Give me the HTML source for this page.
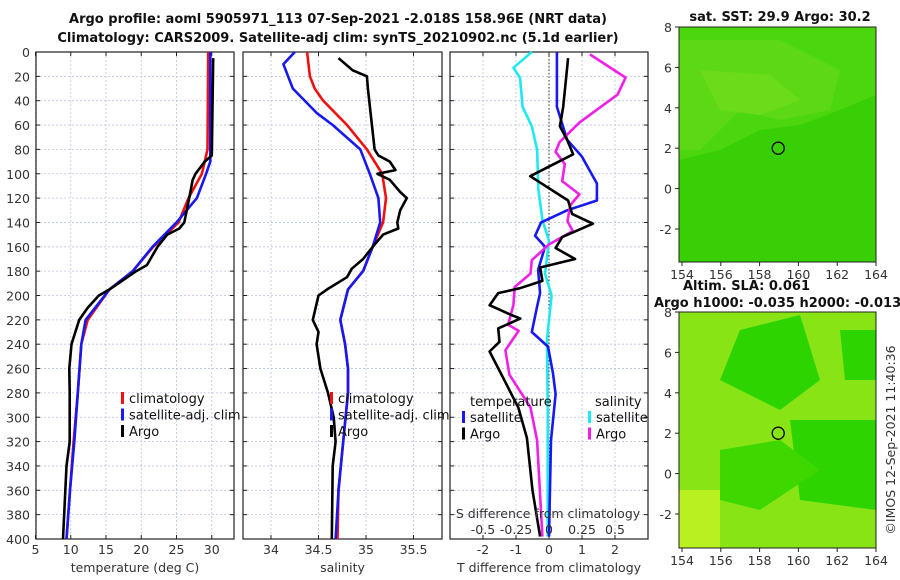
<!DOCTYPE html>
<html><head><meta charset="utf-8"><style>
body{margin:0;background:#fff;}
svg{display:block;font-family:"DejaVu Sans","Liberation Sans",sans-serif;}
.t{font-size:13px;font-weight:bold;fill:#111;}
.tk{font-size:12.5px;fill:#333;}
.lg{font-size:13px;fill:#111;}
</style></head><body>
<svg id="c" width="900" height="580" viewBox="0 0 900 580">
<text class="t" x="338" y="23" text-anchor="middle">Argo profile: aoml 5905971_113 07-Sep-2021 -2.018S 158.96E (NRT data)</text>
<text class="t" x="338" y="42" text-anchor="middle">Climatology: CARS2009. Satellite-adj clim: synTS_20210902.nc (5.1d earlier)</text>
<g id="maps"></g>
<g id="plots"></g>
</svg>
<script>
// depths shared
const depthTicks=[0,20,40,60,80,100,120,140,160,180,200,220,240,260,280,300,320,340,360,380,400];
// temperature panel
const tTicks=[5,10,15,20,25,30];
const tClimD=[0,80,100,120,140,160,180,195,220,240,280,320,360,400];
const tClimV=[29.5,29.4,28.6,26.7,25.3,21.7,18.8,15.5,12.4,11.5,11.0,10.4,9.9,9.4];
const tSatD=[0,90,100,120,140,160,180,195,220,240,280,320,360,400];
const tSatV=[29.8,29.8,29.2,27.9,25.0,21.6,18.8,15.5,12.1,11.5,11.0,10.5,9.9,9.4];
const tArgoD=[5,85,90,100,105,120,140,145,150,160,175,180,195,200,210,220,240,260,280,320,340,400];
const tArgoV=[30.2,30.0,29.0,27.7,27.3,26.8,26.1,25.4,23.7,22.3,20.8,19.3,15.5,14.0,12.4,11.2,10.1,9.8,9.85,9.85,9.4,8.9];
// salinity panel
const sTicks=[34,34.5,35,35.5];
const sClimD=[0,20,30,40,60,80,100,120,140,160,180,195,220,240,260,280,320,360,400];
const sClimV=[34.38,34.41,34.46,34.55,34.80,35.01,35.17,35.21,35.18,35.07,34.97,34.81,34.73,34.78,34.81,34.81,34.76,34.71,34.70];
const sSatD=[0,10,30,50,60,80,100,120,140,160,180,195,220,240,260,280,320,360,400];
const sSatV=[34.25,34.13,34.23,34.48,34.65,34.94,35.04,35.13,35.15,35.07,34.97,34.81,34.73,34.78,34.81,34.81,34.76,34.71,34.68];
const sArgoD=[5,15,20,30,80,85,90,97,100,105,115,120,130,140,145,150,160,170,178,185,195,200,220,230,240,260,280,300,320,340,400];
const sArgoV=[34.71,34.86,35.01,35.02,35.09,35.13,35.25,35.31,35.12,35.25,35.36,35.43,35.36,35.33,35.34,35.18,35.07,34.97,34.85,34.80,34.59,34.50,34.44,34.50,34.48,34.52,34.60,34.66,34.68,34.65,34.64];
// difference panel
const dtTicks=[-2,-1,0,1,2];
const dsTicks=[-0.5,-0.25,0,0.25,0.5];
const dsTickLabels=["-0.5","-0.25","0","0.25","0.5"];
const dtSatD=[0,45,72,86,108,122,130,140,151,160,179,198,209,230,242,264,281,319,398];
const dtSatV=[0.24,0.24,0.55,1.0,1.45,1.45,0.55,-0.24,-0.42,-0.12,-0.33,-0.27,-0.36,-0.52,-0.03,0.12,0.2,0.06,0.0];
const dtArgoD=[5,45,61,72,84,102,122,133,141,152,161,170,177,188,194,198,208,216,219,227,238,246,265,292,317,360,398];
const dtArgoV=[0.58,0.43,0.33,0.55,0.73,-0.57,0.58,0.7,1.33,0.4,0.2,0.79,-0.27,-0.2,-0.88,-1.54,-1.8,-1.14,-0.87,-1.54,-1.5,-1.8,-1.44,-0.93,-0.67,-0.5,-0.27];
const dsSatD=[0,13,21,45,61,80,113,138,155,182,200,236,292,398];
const dsSatV=[-0.13,-0.27,-0.22,-0.2,-0.13,-0.09,-0.08,-0.05,0.0,-0.03,0.02,-0.015,-0.01,-0.01];
const dsArgoD=[2,21,35,58,74,82,92,106,117,126,139,147,158,171,182,193,208,224,229,245,265,292,319,398];
const dsArgoV=[0.31,0.58,0.52,0.23,0.08,0.05,0.12,0.1,0.23,0.16,0.14,0.18,0.0,-0.13,-0.14,-0.26,-0.27,-0.31,-0.23,-0.33,-0.3,-0.14,-0.09,-0.05];

const NS='http://www.w3.org/2000/svg';
const svg=document.getElementById('c');
const plots=document.getElementById('plots');
function el(tag,attrs,parent){const e=document.createElementNS(NS,tag);for(const k in attrs)e.setAttribute(k,attrs[k]);(parent||plots).appendChild(e);return e;}
const Y0=52,Y1=539;
const yD=d=>Y0+d*(Y1-Y0)/400;

function panel(x0,x1,xs,ticks,labels,xlabel,name){
  const g=el('g',{});
  
  
  depthTicks.forEach(d=>{const l=el('line',{x1:x0,x2:x1,y1:yD(d),y2:yD(d),stroke:'#b8c4e0','stroke-width':0.8,'stroke-dasharray':'2,2'},g);});
  ticks.forEach((t,i)=>{const x=xs(t);const l=el('line',{x1:x,x2:x,y1:Y0,y2:Y1,stroke:'#b8c4e0','stroke-width':0.8,'stroke-dasharray':'2,2'},g);
    el('line',{x1:x,x2:x,y1:Y1,y2:Y1-4,stroke:'#222'},g);el('line',{x1:x,x2:x,y1:Y0,y2:Y0+4,stroke:'#222'},g);
    const tx=el('text',{x:x,y:Y1+15,'text-anchor':'middle',class:'tk'},g);tx.textContent=labels[i];});
  depthTicks.forEach(d=>{el('line',{x1:x0,x2:x0+4,y1:yD(d),y2:yD(d),stroke:'#222'},g);el('line',{x1:x1,x2:x1-4,y1:yD(d),y2:yD(d),stroke:'#222'},g);});
  const r=el('rect',{x:x0,y:Y0,width:x1-x0,height:Y1-Y0,fill:'none',stroke:'#222','stroke-width':1.2},g);
  
  const xl=el('text',{x:(x0+x1)/2,y:572,'text-anchor':'middle',class:'tk'},g);xl.textContent=xlabel;
  
  return g;
}
function line(g,xs,D,V,color,name){
  const p=el('polyline',{points:D.map((d,i)=>xs(V[i]).toFixed(1)+','+yD(d).toFixed(1)).join(' '),fill:'none',stroke:color,'stroke-width':2.6,'stroke-linejoin':'round'},g);
  
}
function legend(g,x,y,items){
  items.forEach((it,i)=>{const yy=y+i*16.5;el('rect',{x:x,y:yy-9,width:3,height:12,fill:it[1]},g);
    const t=el('text',{x:x+8,y:yy+2,class:'lg'},g);t.textContent=it[0];});
}
depthTicks.forEach(d=>{const t=el('text',{x:30,y:yD(d)+5,'text-anchor':'end',class:'tk'});t.textContent=d;});

const xT=v=>35.5+(v-5)*7.05;
const g1=panel(36,234,xT,tTicks,tTicks.map(String),'temperature (deg C)','temperature');
line(g1,xT,tClimD,tClimV,'#f01010','temp-climatology-line');
line(g1,xT,tSatD,tSatV,'#1818f0','temp-satellite-line');
line(g1,xT,tArgoD,tArgoV,'#000','temp-argo-line');
legend(g1,121,401,[['climatology','#f01010'],['satellite-adj. clim','#1818f0'],['Argo','#000']]);
const xS=v=>271+(v-34)*95;
const g2=panel(243,442,xS,sTicks,sTicks.map(String),'salinity','salinity');
line(g2,xS,sClimD,sClimV,'#f01010','sal-climatology-line');
line(g2,xS,sSatD,sSatV,'#1818f0','sal-satellite-line');
line(g2,xS,sArgoD,sArgoV,'#000','sal-argo-line');
legend(g2,330,401,[['climatology','#f01010'],['satellite-adj. clim','#1818f0'],['Argo','#000']]);
const xDT=v=>549+v*33;
const xDS=v=>549+v*132;
const g3=panel(450,648,xDT,dtTicks,dtTicks.map(String),'T difference from climatology','difference');
el('line',{x1:549,x2:549,y1:Y0,y2:Y1,stroke:'#333','stroke-dasharray':'1.5,2'},g3);
line(g3,xDS,dsSatD,dsSatV,'#20e8f0','sal-diff-satellite-line');
line(g3,xDT,dtSatD,dtSatV,'#1818f0','temp-diff-satellite-line');
line(g3,xDS,dsArgoD,dsArgoV,'#f020e8','sal-diff-argo-line');
line(g3,xDT,dtArgoD,dtArgoV,'#000','temp-diff-argo-line');
{const t=el('text',{x:470,y:406,class:'lg'},g3);t.textContent='temperature';
 const s=el('text',{x:595,y:406,class:'lg'},g3);s.textContent='salinity';}
legend(g3,462,420,[['satellite','#1818f0'],['Argo','#000']]);
legend(g3,588,420,[['satellite','#20e8f0'],['Argo','#f020e8']]);
{const t=el('text',{x:548,y:518,'text-anchor':'middle',class:'tk'},g3);t.textContent='S difference from climatology';}
dsTicks.forEach((v,i)=>{const t=el('text',{x:xDS(v),y:534,'text-anchor':'middle',class:'tk'},g3);t.textContent=dsTickLabels[i];});

const maps=document.getElementById('maps');
const lonTicks=[154,156,158,160,162,164];
const latTicks=[8,6,4,2,0,-2];
function map(top,bottom,base,patches,name){
  const g=el('g',{},maps);
  
  const xL=v=>682+(v-154)*19.4, yL=v=>top+(8-v)*20.2;
  el('rect',{x:679,y:top,width:197,height:bottom-top,fill:base},g);
  patches.forEach(p=>el('polygon',{points:p[0],fill:p[1]},g));
  el('circle',{cx:xL(158.96),cy:yL(2),r:6,fill:'none',stroke:'#000','stroke-width':1.3},g);
  el('rect',{x:679,y:top,width:197,height:bottom-top,fill:'none',stroke:'#222'},g);
  lonTicks.forEach(v=>{el('line',{x1:xL(v),x2:xL(v),y1:bottom,y2:bottom+4,stroke:'#222'},g);const t=el('text',{x:xL(v),y:bottom+17,'text-anchor':'middle',class:'tk'},g);t.textContent=v;});
  latTicks.forEach(v=>{el('line',{x1:675,x2:679,y1:yL(v),y2:yL(v),stroke:'#222'},g);const t=el('text',{x:672,y:yL(v)+5,'text-anchor':'end',class:'tk'},g);t.textContent=v;});
}
map(27,262,'#38cf06',[['679,27 876,27 876,95 840,110 800,125 760,130 720,150 679,160','#4cd60e'],['679,40 780,40 840,70 830,110 780,120 740,110 700,150 679,150','#5cd914'],['700,70 770,75 800,100 760,115 720,110','#6adc1a']],'sst-map');
map(312,548,'#88e414',[['740,330 800,315 820,380 780,410 720,380','#2ed400'],['790,420 876,420 876,510 800,500','#2ed400'],['720,450 780,440 820,470 760,510 720,500','#3ed800'],['840,330 876,330 876,380 845,380','#2ed400'],['679,490 720,490 720,548 679,548','#b8f020']],'sla-map');
{const t=el('text',{x:780,y:21,'text-anchor':'middle',class:'t'},maps);t.textContent='sat. SST: 29.9 Argo: 30.2';
 const a=el('text',{x:683,y:290,class:'t'},maps);a.textContent='Altim. SLA: 0.061';
 const b=el('text',{x:654,y:307,class:'t'},maps);b.textContent='Argo h1000: -0.035 h2000: -0.013';
 const c=el('text',{x:0,y:0,class:'tk',transform:'translate(895,440) rotate(-90)','text-anchor':'middle'},maps);c.textContent='©IMOS 12-Sep-2021 11:40:36';}
</script>
</body></html>
